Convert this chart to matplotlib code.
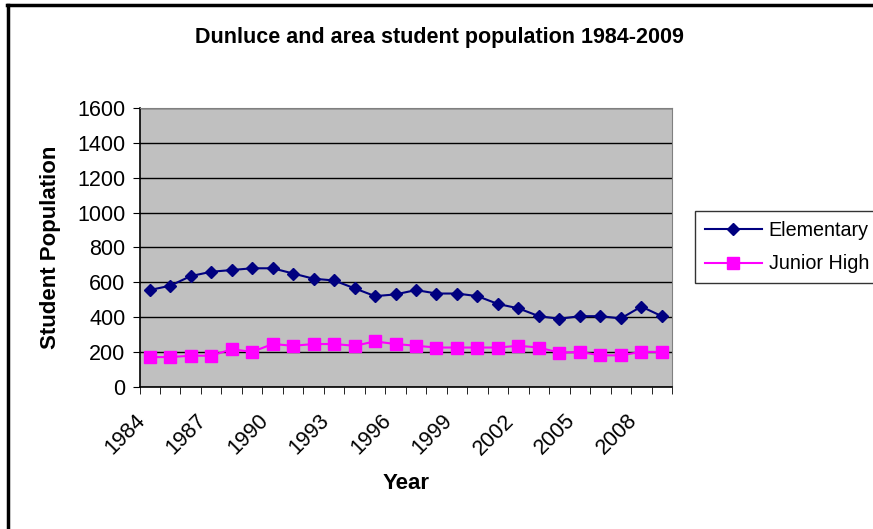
import numpy as np
import matplotlib.pyplot as plt
import matplotlib.transforms as mtransforms
from matplotlib.lines import Line2D

plt.rcParams['font.family'] = ['Liberation Sans', 'DejaVu Sans']

years = list(range(1984, 2010))
elementary = [555, 580, 635, 660, 670, 680, 680, 650, 620, 610, 565, 520, 530,
              555, 535, 535, 520, 475, 450, 405, 390, 405, 405, 392, 460, 405]
junior_high = [170, 170, 178, 178, 215, 200, 245, 235, 245, 245, 235, 260, 245,
               235, 225, 225, 225, 225, 235, 225, 195, 200, 180, 180, 200, 200]
y_ticks = list(range(0, 1601, 200))
label_years = years[::3]

fig = plt.figure(figsize=(8.73, 5.29), dpi=100)
ax = fig.add_axes([0.1598, 0.269, 0.6100, 0.5267])
ax.set_facecolor('#C0C0C0')

x = np.arange(len(years))
ax.plot(x, elementary, color='#000080', marker='D', markersize=6.5, lw=1.5,
        label='Elementary')
ax.plot(x, junior_high, color='#FF00FF', marker='s', markersize=8, lw=1.5,
        label='Junior High')

ax.set_xlim(-0.5, len(years) - 0.5)
ax.set_ylim(0, 1600)
ax.set_yticks(y_ticks)
ax.tick_params(axis='y', labelsize=15.5, length=5, direction='out', pad=5)
ax.grid(axis='y', color='black', lw=1)
ax.set_axisbelow(True)

# category labels every 3 years, tick marks at category borders
ax.set_xticks([years.index(y) for y in label_years])
ax.set_xticklabels([str(y) for y in label_years], rotation=45, ha='right',
                   va='top', rotation_mode='anchor')
ax.set_xticks(np.arange(-0.5, len(years)), minor=True)
ax.tick_params(axis='x', which='major', length=0, labelsize=15.5, pad=14)
ax.tick_params(axis='x', which='minor', length=5, direction='out')
shift = mtransforms.ScaledTranslation(-0.15, -0.04, fig.dpi_scale_trans)
for lbl in ax.get_xticklabels():
    lbl.set_transform(lbl.get_transform() + shift)

for s in ['top', 'right']:
    ax.spines[s].set_color('#808080')
for s in ['left', 'bottom']:
    ax.spines[s].set_color('black')
    ax.spines[s].set_linewidth(1.2)

ax.set_ylabel('Student Population', fontsize=16, fontweight='bold', labelpad=12)
ax.set_xlabel('Year', fontsize=16, fontweight='bold', labelpad=10)
fig.text(0.503, 0.930, 'Dunluce and area student population 1984-2009',
         ha='center', va='center', fontsize=15.5, fontweight='bold')

leg = fig.legend(loc='center left', bbox_to_anchor=(0.796, 0.533), fontsize=14.2,
                 frameon=True, fancybox=False, edgecolor='black',
                 handlelength=2.9, handletextpad=0.35, borderpad=0.5,
                 borderaxespad=0, labelspacing=0.75)
leg.get_frame().set_linewidth(1)

# outer chart border (only top and left visible)
fig.add_artist(Line2D([0.008, 1], [0.991, 0.991], color='black', lw=2.5,
                      transform=fig.transFigure))
fig.add_artist(Line2D([0.009, 0.009], [0, 0.991], color='black', lw=2.5,
                      transform=fig.transFigure))

fig.savefig('out.png', dpi=100)
